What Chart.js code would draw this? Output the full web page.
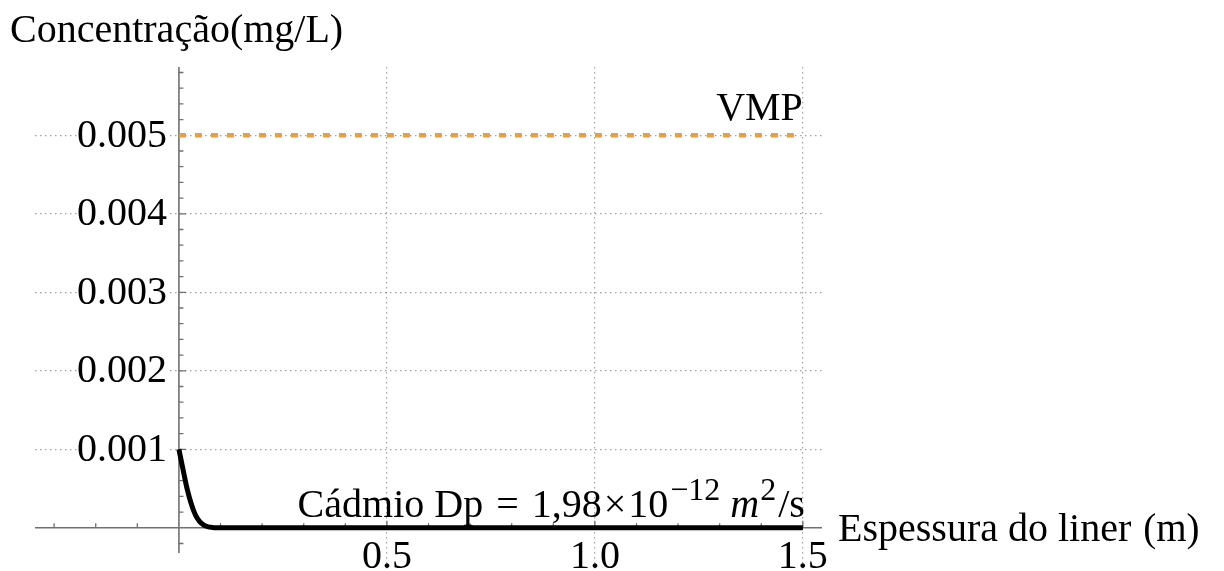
<!DOCTYPE html>
<html>
<head>
<meta charset="utf-8">
<script src="https://cdn.jsdelivr.net/npm/chart.js@4"></script>
<style>
  html, body { margin: 0; padding: 0; background: #fff; }
  #wrap { width: 1224px; height: 571px; }
</style>
</head>
<body>
<div id="wrap"><canvas id="c"></canvas></div>
<script>
// Perfil de concentracao de cadmio no liner vs. VMP
const CURVE_X = [0, 0.005, 0.01, 0.02, 0.03, 0.04, 0.05, 0.06, 0.07, 0.08, 0.09, 0.1, 1.5];
const CURVE_Y = [0.001, 0.00087, 0.00074, 0.00049, 0.0003, 0.00016, 0.00008, 0.000035, 0.000013, 0.000005, 0.000001, 0, 0];
const VMP_X = [0, 1.5];
const VMP_Y = [0.005, 0.005];
const X_TICKS = [0.5, 1.0, 1.5];
const X_TICK_LABELS = ["0.5", "1.0", "1.5"];
const Y_TICKS = [0.001, 0.002, 0.003, 0.004, 0.005];
const Y_TICK_LABELS = ["0.001", "0.002", "0.003", "0.004", "0.005"];

const X_RANGE = [-0.346, 1.546];
const Y_RANGE = [-0.00055, 0.00587];
const Y_AXIS_BOTTOM = -0.00032;

const C = { ink: "#000", axis: "#707070", grid: "#a0a0a0", vmp: "#E6A13A" };
const SERIF = "'Liberation Serif', 'Times New Roman', serif";

const pts = (xs, ys) => xs.map((x, i) => ({ x, y: ys[i] }));

// eixos no estilo Mathematica: linhas em zero, marcas maiores e menores
const axesPlugin = {
  id: "axes",
  beforeDatasetsDraw(chart) {
    const { ctx, scales: { x, y } } = chart;
    const x0 = x.getPixelForValue(0), y0 = y.getPixelForValue(0);
    ctx.save();
    ctx.strokeStyle = C.axis;
    ctx.lineWidth = 1.6;
    ctx.beginPath();
    ctx.moveTo(x.left, y0); ctx.lineTo(x.right, y0);
    ctx.moveTo(x0, y.getPixelForValue(Y_RANGE[1])); ctx.lineTo(x0, y.getPixelForValue(Y_AXIS_BOTTOM));
    ctx.stroke();
    ctx.lineWidth = 1.3;
    ctx.beginPath();
    for (let i = -3; i <= 15; i++) {
      if (i === 0) continue;
      const px = x.getPixelForValue(i / 10);
      const len = i % 5 === 0 ? 7 : 4.5;
      ctx.moveTo(px, y0); ctx.lineTo(px, y0 - len);
    }
    for (let i = -1; i <= 29; i++) {
      if (i === 0) continue;
      const py = y.getPixelForValue(i * 0.0002);
      const len = i % 5 === 0 ? 7 : 4.5;
      ctx.moveTo(x0, py); ctx.lineTo(x0 + len, py);
    }
    ctx.stroke();
    ctx.restore();
  },
  afterDraw(chart) {
    const { ctx, scales: { x, y } } = chart;
    const x0 = x.getPixelForValue(0), y0 = y.getPixelForValue(0);
    ctx.save();
    ctx.fillStyle = C.ink;
    ctx.font = `40px ${SERIF}`;

    // rotulos do eixo y (fundo branco cobre a grade)
    ctx.textAlign = "right";
    ctx.textBaseline = "middle";
    Y_TICKS.forEach((v, i) => {
      const py = y.getPixelForValue(v);
      const w = ctx.measureText(Y_TICK_LABELS[i]).width;
      ctx.fillStyle = "#fff";
      ctx.fillRect(x0 - 12 - w, py - 14, w, 28);
      ctx.fillStyle = C.ink;
      ctx.fillText(Y_TICK_LABELS[i], x0 - 12, py + 1);
    });

    // rotulos do eixo x
    ctx.textAlign = "center";
    ctx.textBaseline = "alphabetic";
    X_TICKS.forEach((v, i) => ctx.fillText(X_TICK_LABELS[i], x.getPixelForValue(v), y0 + 40));

    // titulos
    ctx.textAlign = "left";
    ctx.fillText("Concentração(mg/L)", 10, 42);
    ctx.fillText("Espessura do liner ", 838, y0 + 13);
    const wE = ctx.measureText("Espessura do liner ").width;
    ctx.font = `39px ${SERIF}`;
    ctx.fillText("(m)", 838 + wE + 2, y0 + 13);

    // VMP
    ctx.font = `40px ${SERIF}`;
    ctx.textAlign = "right";
    ctx.fillText("VMP", x.getPixelForValue(1.5), y.getPixelForValue(0.005) - 15);

    // legenda do cadmio com expoentes (g = espaco extra depois da parte)
    const parts = [
      { t: "Cádmio Dp", f: `40px ${SERIF}`, dy: 0, g: 3 },
      { t: "=", f: `40px ${SERIF}`, dy: 0, g: 3 },
      { t: "1,98", f: `40px ${SERIF}`, dy: 0, g: 2 },
      { t: "×", f: `40px ${SERIF}`, dy: 0, g: 2 },
      { t: "10", f: `40px ${SERIF}`, dy: 0, g: 2 },
      { t: "−12", f: `32px ${SERIF}`, dy: -17, g: 10 },
      { t: "m", f: `italic 40px ${SERIF}`, dy: 0, g: 1 },
      { t: "2", f: `32px ${SERIF}`, dy: -17, g: 2 },
      { t: "/s", f: `40px ${SERIF}`, dy: 0, g: 0 },
    ];
    ctx.font = `40px ${SERIF}`;
    const sp = ctx.measureText(" ").width;
    parts[0].g += sp; parts[1].g += sp;
    let total = 0;
    parts.forEach((p) => { ctx.font = p.f; p.w = ctx.measureText(p.t).width; total += p.w + p.g; });
    let cx = x.getPixelForValue(1.5) + 2 - total;
    ctx.textAlign = "left";
    parts.forEach((p) => { ctx.font = p.f; ctx.fillText(p.t, cx, y0 - 11 + p.dy); cx += p.w + p.g; });
    ctx.restore();
  },
};

const gridOpts = {
  color: C.grid,
  lineWidth: 1.2,
  drawTicks: false,
};

new Chart(document.getElementById("c"), {
  type: "line",
  data: {
    datasets: [
      {
        label: "VMP",
        data: pts(VMP_X, VMP_Y),
        borderColor: C.vmp,
        borderWidth: 4.5,
        borderDash: [7, 9],
        pointRadius: 0,
      },
      {
        label: "Cádmio",
        data: pts(CURVE_X, CURVE_Y),
        borderColor: C.ink,
        borderWidth: 5,
        cubicInterpolationMode: "monotone",
        pointRadius: 0,
      },
    ],
  },
  options: {
    responsive: true,
    maintainAspectRatio: false,
    animation: false,
    events: [],
    layout: { padding: { left: 35, right: 402, top: 67, bottom: 0 } },
    plugins: { legend: { display: false }, tooltip: { enabled: false } },
    scales: {
      x: {
        type: "linear",
        min: X_RANGE[0],
        max: X_RANGE[1],
        afterBuildTicks: (s) => { s.ticks = X_TICKS.map((v) => ({ value: v })); },
        afterFit: (s) => { s.height = 0; },
        ticks: { display: false },
        grid: gridOpts,
        border: { display: false, dash: [1.5, 3.5] },
      },
      y: {
        type: "linear",
        min: Y_RANGE[0],
        max: Y_RANGE[1],
        afterBuildTicks: (s) => { s.ticks = Y_TICKS.map((v) => ({ value: v })); },
        afterFit: (s) => { s.width = 0; },
        ticks: { display: false },
        grid: gridOpts,
        border: { display: false, dash: [1.5, 3.5] },
      },
    },
  },
  plugins: [axesPlugin],
});
</script>
</body>
</html>
